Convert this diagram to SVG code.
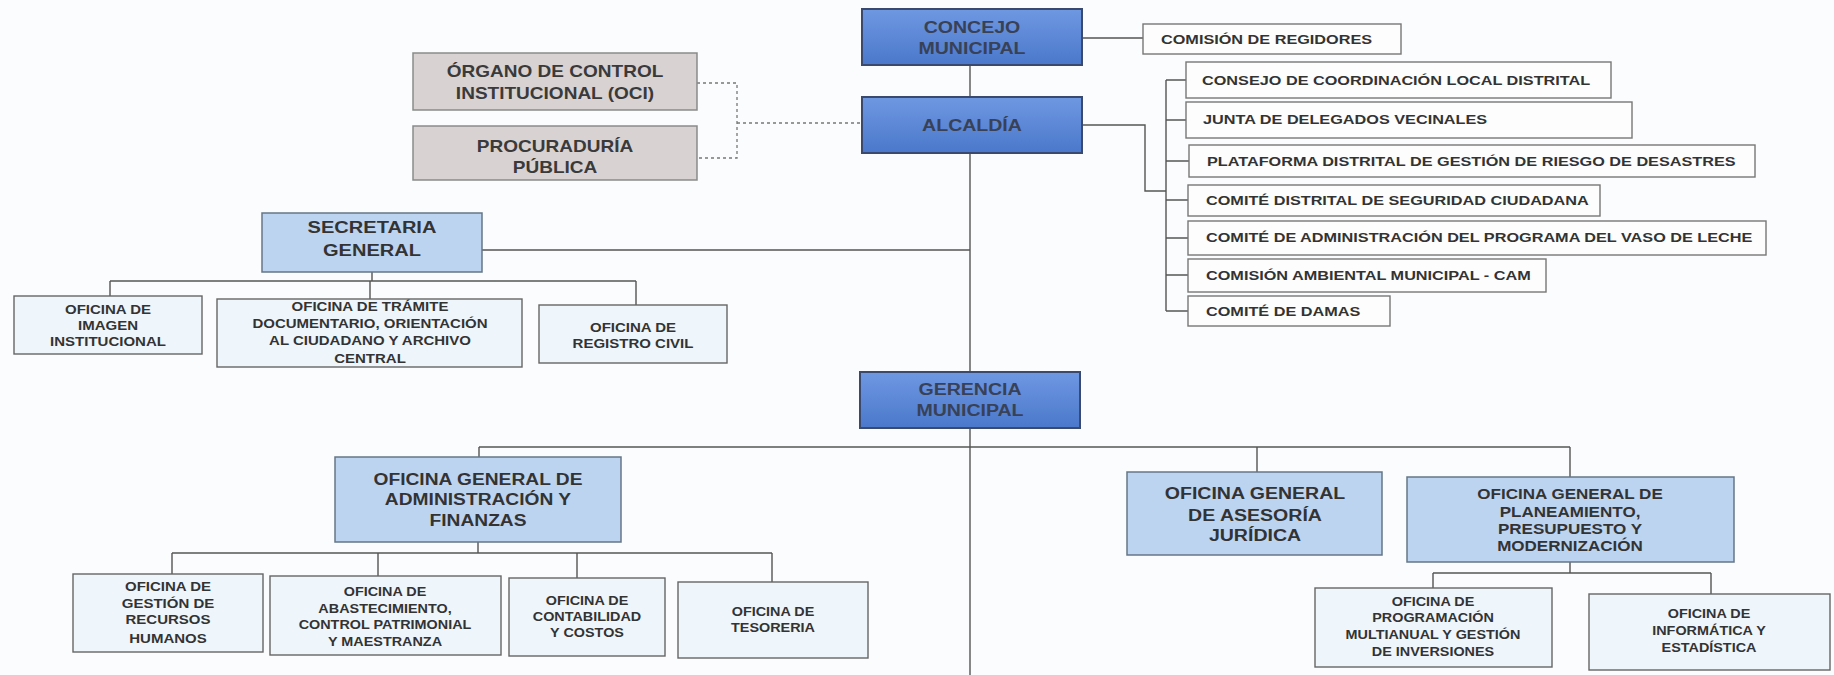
<svg xmlns="http://www.w3.org/2000/svg" width="1834" height="675" viewBox="0 0 1834 675">
<defs>
<linearGradient id="gBlue" x1="0" y1="0" x2="0" y2="1">
<stop offset="0" stop-color="#6f98e2"/>
<stop offset="1" stop-color="#4b78cb"/>
</linearGradient>
<style>
.ln{fill:none;stroke:#555;stroke-width:1.4}
.dot{fill:none;stroke:#777;stroke-width:1.3;stroke-dasharray:3 3}
.bb{fill:url(#gBlue);stroke:#3a4a6e;stroke-width:2}
.gb{fill:#d8d2d2;stroke:#8a8a8a;stroke-width:1.5}
.mb{fill:#bdd4f1;stroke:#667588;stroke-width:1.5}
.sb{fill:#eef5fb;stroke:#666;stroke-width:1.4}
.wb{fill:#fdfdfd;stroke:#777;stroke-width:1.4}
text{font-family:"Liberation Sans",Arial,sans-serif;font-weight:bold;fill:#333}
.tb{font-size:17px;fill:#384156;text-anchor:middle}
.tg{font-size:17px;fill:#3a3a3a;text-anchor:middle}
.tm{font-size:17px;text-anchor:middle}
.tm2{font-size:15.5px;text-anchor:middle}
.ts{font-size:12px;text-anchor:middle}
.tl{font-size:13px;text-anchor:start}
</style>
</defs>
<rect x="0" y="0" width="1834" height="675" fill="#fbfcfd"/>

<g id="connectors">
<path class="ln" d="M970 65V675"/>
<path class="ln" d="M1082 38H1143"/>
<path class="ln" d="M1082 125H1145V191H1166"/>
<path class="ln" d="M1166 80V311M1166 80H1187M1166 120H1187M1166 161H1189M1166 200H1188M1166 238H1188M1166 275H1188M1166 311H1188"/>
<path class="dot" d="M697 83H737V158H697M737 123H862"/>
<path class="ln" d="M482 250H970"/>
<path class="ln" d="M372 272V281M110 281H636M110 281V296M370 281V299M636 281V305"/>
<path class="ln" d="M479 447H1570M479 447V457M1257 447V472M1570 447V477"/>
<path class="ln" d="M478 542V553M172 553H772M172 553V574M378 553V576M577 553V578M772 553V582"/>
<path class="ln" d="M1570 562V573M1433 573H1711M1433 573V588M1711 573V594"/>
</g>

<g id="concejo">
<rect class="bb" x="862" y="9" width="220" height="56"/>
<g transform="translate(972 0) scale(1.15 1)"><text class="tb" x="0" y="33">CONCEJO</text><text class="tb" x="0" y="54">MUNICIPAL</text></g>
</g>
<g id="alcaldia">
<rect class="bb" x="862" y="97" width="220" height="56"/>
<g transform="translate(972 0) scale(1.15 1)"><text class="tb" x="0" y="131">ALCALDÍA</text></g>
</g>
<g id="gerencia">
<rect class="bb" x="860" y="372" width="220" height="56"/>
<g transform="translate(970 0) scale(1.15 1)"><text class="tb" x="0" y="395">GERENCIA</text><text class="tb" x="0" y="416">MUNICIPAL</text></g>
</g>

<g id="oci">
<rect class="gb" x="413" y="53" width="284" height="57"/>
<g transform="translate(555 0) scale(1.12 1)"><text class="tg" x="0" y="77">ÓRGANO DE CONTROL</text><text class="tg" x="0" y="99">INSTITUCIONAL (OCI)</text></g>
</g>
<g id="procuraduria">
<rect class="gb" x="413" y="126" width="284" height="54"/>
<g transform="translate(555 0) scale(1.12 1)"><text class="tg" x="0" y="152">PROCURADURÍA</text><text class="tg" x="0" y="173">PÚBLICA</text></g>
</g>

<g id="comision-regidores">
<rect class="wb" x="1143" y="24" width="258" height="30"/>
<g transform="translate(1161 0) scale(1.25 1)"><text class="tl" x="0" y="44">COMISIÓN DE REGIDORES</text></g>
</g>
<g id="consejo-coordinacion">
<rect class="wb" x="1186" y="62" width="425" height="36"/>
<g transform="translate(1202 0) scale(1.25 1)"><text class="tl" x="0" y="85">CONSEJO DE COORDINACIÓN LOCAL DISTRITAL</text></g>
</g>
<g id="junta-delegados">
<rect class="wb" x="1186" y="102" width="446" height="36"/>
<g transform="translate(1203 0) scale(1.25 1)"><text class="tl" x="0" y="124">JUNTA DE DELEGADOS VECINALES</text></g>
</g>
<g id="plataforma">
<rect class="wb" x="1189" y="145" width="566" height="32"/>
<g transform="translate(1207 0) scale(1.25 1)"><text class="tl" x="0" y="166">PLATAFORMA DISTRITAL DE GESTIÓN DE RIESGO DE DESASTRES</text></g>
</g>
<g id="comite-seguridad">
<rect class="wb" x="1188" y="185" width="412" height="31"/>
<g transform="translate(1206 0) scale(1.25 1)"><text class="tl" x="0" y="205">COMITÉ DISTRITAL DE SEGURIDAD CIUDADANA</text></g>
</g>
<g id="comite-vaso-leche">
<rect class="wb" x="1188" y="221" width="578" height="34"/>
<g transform="translate(1206 0) scale(1.25 1)"><text class="tl" x="0" y="242">COMITÉ DE ADMINISTRACIÓN DEL PROGRAMA DEL VASO DE LECHE</text></g>
</g>
<g id="comision-ambiental">
<rect class="wb" x="1188" y="259" width="358" height="33"/>
<g transform="translate(1206 0) scale(1.25 1)"><text class="tl" x="0" y="280">COMISIÓN AMBIENTAL MUNICIPAL - CAM</text></g>
</g>
<g id="comite-damas">
<rect class="wb" x="1188" y="296" width="202" height="30"/>
<g transform="translate(1206 0) scale(1.25 1)"><text class="tl" x="0" y="316">COMITÉ DE DAMAS</text></g>
</g>

<g id="secretaria">
<rect class="mb" x="262" y="213" width="220" height="59"/>
<g transform="translate(372 0) scale(1.18 1)"><text class="tm" x="0" y="233">SECRETARIA</text><text class="tm" x="0" y="256">GENERAL</text></g>
</g>
<g id="imagen">
<rect class="sb" x="14" y="296" width="188" height="58"/>
<g transform="translate(108 0) scale(1.25 1)"><text class="ts" x="0" y="314">OFICINA DE</text><text class="ts" x="0" y="330">IMAGEN</text><text class="ts" x="0" y="346">INSTITUCIONAL</text></g>
</g>
<g id="tramite">
<rect class="sb" x="217" y="299" width="305" height="68"/>
<g transform="translate(370 0) scale(1.25 1)"><text class="ts" x="0" y="311">OFICINA DE TRÁMITE</text><text class="ts" x="0" y="328">DOCUMENTARIO, ORIENTACIÓN</text><text class="ts" x="0" y="345">AL CIUDADANO Y ARCHIVO</text><text class="ts" x="0" y="363">CENTRAL</text></g>
</g>
<g id="registro">
<rect class="sb" x="539" y="305" width="188" height="58"/>
<g transform="translate(633 0) scale(1.25 1)"><text class="ts" x="0" y="332">OFICINA DE</text><text class="ts" x="0" y="348">REGISTRO CIVIL</text></g>
</g>

<g id="administracion">
<rect class="mb" x="335" y="457" width="286" height="85"/>
<g transform="translate(478 0) scale(1.13 1)"><text class="tm" x="0" y="485">OFICINA GENERAL DE</text><text class="tm" x="0" y="505">ADMINISTRACIÓN Y</text><text class="tm" x="0" y="526">FINANZAS</text></g>
</g>
<g id="rrhh">
<rect class="sb" x="73" y="574" width="190" height="78"/>
<g transform="translate(168 0) scale(1.25 1)"><text class="ts" x="0" y="591">OFICINA DE</text><text class="ts" x="0" y="608">GESTIÓN DE</text><text class="ts" x="0" y="624">RECURSOS</text><text class="ts" x="0" y="643">HUMANOS</text></g>
</g>
<g id="abastecimiento">
<rect class="sb" x="270" y="576" width="231" height="79"/>
<g transform="translate(385 0) scale(1.2 1)"><text class="ts" x="0" y="596">OFICINA DE</text><text class="ts" x="0" y="613">ABASTECIMIENTO,</text><text class="ts" x="0" y="629">CONTROL PATRIMONIAL</text><text class="ts" x="0" y="646">Y MAESTRANZA</text></g>
</g>
<g id="contabilidad">
<rect class="sb" x="509" y="578" width="156" height="78"/>
<g transform="translate(587 0) scale(1.2 1)"><text class="ts" x="0" y="605">OFICINA DE</text><text class="ts" x="0" y="621">CONTABILIDAD</text><text class="ts" x="0" y="637">Y COSTOS</text></g>
</g>
<g id="tesoreria">
<rect class="sb" x="678" y="582" width="190" height="76"/>
<g transform="translate(773 0) scale(1.2 1)"><text class="ts" x="0" y="616">OFICINA DE</text><text class="ts" x="0" y="632">TESORERIA</text></g>
</g>

<g id="asesoria">
<rect class="mb" x="1127" y="472" width="255" height="83"/>
<g transform="translate(1255 0) scale(1.15 1)"><text class="tm" x="0" y="499">OFICINA GENERAL</text><text class="tm" x="0" y="521">DE ASESORÍA</text><text class="tm" x="0" y="541">JURÍDICA</text></g>
</g>
<g id="planeamiento">
<rect class="mb" x="1407" y="477" width="327" height="85"/>
<g transform="translate(1570 0) scale(1.1 1)"><text class="tm2" x="0" y="499">OFICINA GENERAL DE</text><text class="tm2" x="0" y="517">PLANEAMIENTO,</text><text class="tm2" x="0" y="534">PRESUPUESTO Y</text><text class="tm2" x="0" y="551">MODERNIZACIÓN</text></g>
</g>
<g id="programacion">
<rect class="sb" x="1315" y="588" width="237" height="79"/>
<g transform="translate(1433 0) scale(1.2 1)"><text class="ts" x="0" y="606">OFICINA DE</text><text class="ts" x="0" y="622">PROGRAMACIÓN</text><text class="ts" x="0" y="639">MULTIANUAL Y GESTIÓN</text><text class="ts" x="0" y="656">DE INVERSIONES</text></g>
</g>
<g id="informatica">
<rect class="sb" x="1589" y="594" width="241" height="76"/>
<g transform="translate(1709 0) scale(1.2 1)"><text class="ts" x="0" y="618">OFICINA DE</text><text class="ts" x="0" y="635">INFORMÁTICA Y</text><text class="ts" x="0" y="652">ESTADÍSTICA</text></g>
</g>
</svg>
